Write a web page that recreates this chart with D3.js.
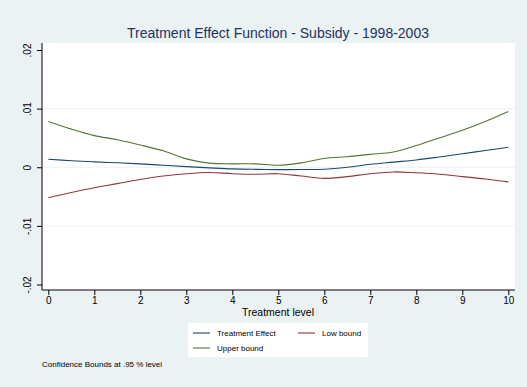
<!DOCTYPE html>
<html>
<head>
<meta charset="utf-8">
<script src="https://cdn.jsdelivr.net/npm/d3@7"></script>
<style>
  html, body { margin: 0; padding: 0; background: #eaf2f3; }
  svg { display: block; font-family: "Liberation Sans", Arial, Helvetica, sans-serif; }
</style>
</head>
<body>
<svg id="chart" width="527" height="387"></svg>
<script>
// Treatment levels at which the effect function is evaluated
const levels = [0, 0.5, 1, 1.5, 2, 2.5, 3, 3.5, 4, 4.5, 5, 5.5, 6, 6.5, 7, 7.5, 8, 8.5, 9, 9.5, 10];

// Estimated treatment effect
const effect = [0.00136, 0.00112, 0.00092, 0.00076, 0.00058, 0.00034, 0.00010, -0.00010, -0.00028, -0.00036, -0.00040,
                -0.00038, -0.00034, 0.00000, 0.00050, 0.00088, 0.00125, 0.00175, 0.00230, 0.00285, 0.00340];

// 95% confidence bounds
const lowBound = [-0.0052, -0.0043, -0.0035, -0.0028, -0.0021, -0.0015, -0.0011, -0.0009, -0.0011, -0.0012, -0.0011,
                  -0.0015, -0.0019, -0.0016, -0.0011, -0.0008, -0.00095, -0.0012, -0.0016, -0.0020, -0.0025];
const upperBound = [0.0078, 0.0065, 0.0054, 0.0047, 0.0038, 0.0028, 0.00143, 0.0007, 0.00058, 0.00058, 0.00034,
                    0.00075, 0.0015, 0.0018, 0.0022, 0.0026, 0.0037, 0.0050, 0.0063, 0.0078, 0.0095];

const xTicks = [0, 1, 2, 3, 4, 5, 6, 7, 8, 9, 10];
const yTicks = [-0.02, -0.01, 0, 0.01, 0.02];
const yTickLabels = ["-.02", "-.01", "0", ".01", ".02"];

const seriesNames = ["Treatment Effect", "Low bound", "Upper bound"];
const seriesColors = ["#1a476f", "#90353b", "#55752f"];

const titleText = "Treatment Effect Function - Subsidy - 1998-2003";
const xTitle = "Treatment level";
const noteText = "Confidence Bounds at .95 % level";

const svg = d3.select("#chart");
const W = 527, H = 387;

// plot region
const plot = { left: 42, right: 515, top: 43, bottom: 290 };

const x = d3.scaleLinear().domain([0, 10]).range([48.3, 508.3]);
const y = d3.scaleLinear().domain([-0.02, 0.02]).range([284.5, 50]);

svg.append("rect").attr("width", W).attr("height", H).attr("fill", "#eaf2f3");
svg.append("rect")
  .attr("x", plot.left).attr("y", plot.top)
  .attr("width", plot.right - plot.left).attr("height", plot.bottom - plot.top)
  .attr("fill", "#ffffff");

// horizontal grid lines
svg.append("g").selectAll("line")
  .data([-0.01, 0, 0.01])
  .join("line")
  .attr("x1", plot.left).attr("x2", plot.right)
  .attr("y1", d => y(d)).attr("y2", d => y(d))
  .attr("stroke", "#eaf2f3").attr("stroke-width", 1);

// series lines
const seriesData = [effect, lowBound, upperBound];
const line = d3.line()
  .x((d, i) => x(levels[i]))
  .y(d => y(d))
  .curve(d3.curveCatmullRom.alpha(0.5));

svg.append("g").selectAll("path")
  .data(seriesData)
  .join("path")
  .attr("d", d => line(d))
  .attr("fill", "none")
  .attr("stroke", (d, i) => seriesColors[i])
  .attr("stroke-width", 1.1);

// y axis
const yAxis = d3.axisLeft(y)
  .tickValues(yTicks)
  .tickFormat((d, i) => yTickLabels[i])
  .tickSize(5)
  .tickPadding(3)
  .tickSizeOuter(0);
const gy = svg.append("g").attr("transform", `translate(${plot.left},0)`).call(yAxis);
gy.select(".domain").attr("d", `M0,${plot.top}V${plot.bottom}`).attr("stroke", "#000");
gy.selectAll(".tick line").attr("stroke", "#000");
gy.selectAll(".tick text")
  .attr("font-size", 10)
  .attr("fill", "#000")
  .attr("text-anchor", "middle")
  .attr("x", 0).attr("dy", 0)
  .attr("transform", "translate(-11,0) rotate(-90)");

// x axis
const xAxis = d3.axisBottom(x)
  .tickValues(xTicks)
  .tickFormat(d3.format("d"))
  .tickSize(5)
  .tickPadding(2)
  .tickSizeOuter(0);
const gx = svg.append("g").attr("transform", `translate(0,${plot.bottom})`).call(xAxis);
gx.select(".domain").attr("d", `M${plot.left},0H${plot.right}`).attr("stroke", "#000");
gx.selectAll(".tick line").attr("stroke", "#000");
gx.selectAll(".tick text").attr("font-size", 10).attr("fill", "#000");

// titles
svg.append("text")
  .attr("x", 278).attr("y", 38)
  .attr("text-anchor", "middle")
  .attr("font-size", 14)
  .attr("fill", "#1e3264")
  .text(titleText);

svg.append("text")
  .attr("x", 278).attr("y", 316)
  .attr("text-anchor", "middle")
  .attr("font-size", 10.5)
  .attr("fill", "#000")
  .text(xTitle);

// legend
const legend = svg.append("g");
legend.append("rect")
  .attr("x", 188).attr("y", 323)
  .attr("width", 180).attr("height", 34)
  .attr("fill", "#ffffff");
const legendPos = [[193, 333], [298, 333], [193, 348]];
seriesNames.forEach((name, i) => {
  const [lx, ly] = legendPos[i];
  legend.append("line")
    .attr("x1", lx).attr("x2", lx + 17)
    .attr("y1", ly).attr("y2", ly)
    .attr("stroke", seriesColors[i]).attr("stroke-width", 1.1);
  legend.append("text")
    .attr("x", lx + 24).attr("y", ly + 3)
    .attr("font-size", 8)
    .attr("fill", "#000")
    .text(name);
});

svg.append("text")
  .attr("x", 42).attr("y", 367)
  .attr("font-size", 8)
  .attr("fill", "#000")
  .text(noteText);
</script>
</body>
</html>
